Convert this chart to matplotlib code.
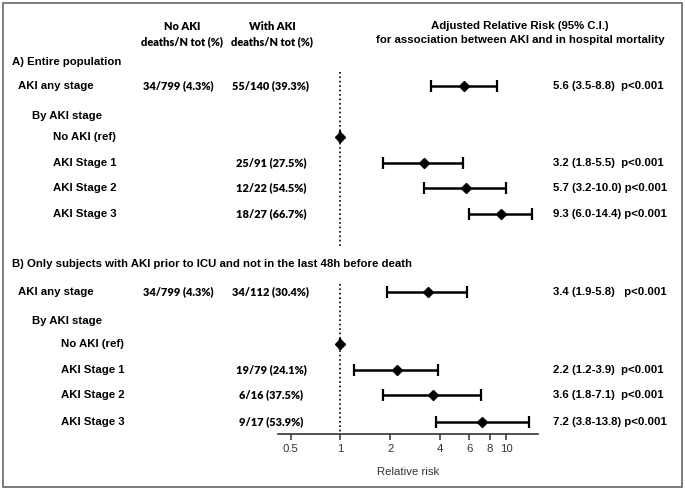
import matplotlib.pyplot as plt
from matplotlib.patches import Rectangle

# data
labels_a = ['AKI any stage', 'By AKI stage', 'No AKI (ref)', 'AKI Stage 1', 'AKI Stage 2', 'AKI Stage 3']
noaki_a = ['34/799 (4.3%)', '', '', '', '', '']
withaki_a = ['55/140 (39.3%)', '', '', '25/91 (27.5%)', '12/22 (54.5%)', '18/27 (66.7%)']
rr_a = [5.6, None, 1.0, 3.2, 5.7, 9.3]
lo_a = [3.5, None, 1.0, 1.8, 3.2, 6.0]
hi_a = [8.8, None, 1.0, 5.5, 10.0, 14.4]
res_a = ['5.6 (3.5-8.8)  p<0.001', '', '', '3.2 (1.8-5.5)  p<0.001',
         '5.7 (3.2-10.0) p<0.001', '9.3 (6.0-14.4) p<0.001']

labels_b = ['AKI any stage', 'By AKI stage', 'No AKI (ref)', 'AKI Stage 1', 'AKI Stage 2', 'AKI Stage 3']
noaki_b = ['34/799 (4.3%)', '', '', '', '', '']
withaki_b = ['34/112 (30.4%)', '', '', '19/79 (24.1%)', '6/16 (37.5%)', '9/17 (53.9%)']
rr_b = [3.4, None, 1.0, 2.2, 3.6, 7.2]
lo_b = [1.9, None, 1.0, 1.2, 1.8, 3.8]
hi_b = [5.8, None, 1.0, 3.9, 7.1, 13.8]
res_b = ['3.4 (1.9-5.8)   p<0.001', '', '', '2.2 (1.2-3.9)  p<0.001',
         '3.6 (1.8-7.1)  p<0.001', '7.2 (3.8-13.8) p<0.001']

ticks = [0.5, 1, 2, 4, 6, 8, 10]

# layout (pixel rows of the 685x491 canvas)
W, H = 685, 491
rows_a = [86, 116, 137, 163, 188, 214]
rows_b = [292, 321, 344, 370, 395, 422]
indent_a = [18, 32, 53, 53, 53, 53]
indent_b = [18, 32, 61, 61, 61, 61]

fig = plt.figure(figsize=(W / 100, H / 100), dpi=100)
ax = fig.add_axes([278 / W, 57 / H, 260 / W, 434 / H])
ax.set_xscale('log')
ax.set_xlim(0.42, 15.6)
ax.set_ylim(434, 0)

lab_font = dict(family='Liberation Sans', weight='bold', fontsize=8.2)
num_font = dict(family='Lato', weight='heavy', fontsize=7.9)


def px(x, y):
    return x / W, 1 - y / H


def draw_block(rows, indent, labels, noaki, withaki, rr, lo, hi, res):
    for i, y in enumerate(rows):
        fig.text(*px(indent[i], y), labels[i], va='center', ha='left', **lab_font)
        if noaki[i]:
            fig.text(*px(178, y), noaki[i], va='center', ha='center', **num_font)
        if withaki[i]:
            fig.text(*px(271, y), withaki[i], va='center', ha='center', **num_font)
        if res[i]:
            fig.text(*px(553, y), res[i], va='center', ha='left', **lab_font)
        if rr[i] is not None:
            ax.errorbar(rr[i], y, xerr=[[rr[i] - lo[i]], [hi[i] - rr[i]]], fmt='D',
                        color='black', ms=5.5, lw=1.8, capsize=4, capthick=1.6)


draw_block(rows_a, indent_a, labels_a, noaki_a, withaki_a, rr_a, lo_a, hi_a, res_a)
draw_block(rows_b, indent_b, labels_b, noaki_b, withaki_b, rr_b, lo_b, hi_b, res_b)

# reference line at RR = 1, broken around the section B header
ax.plot([1, 1], [72, 248], ls=':', color='black', lw=1.2)
ax.plot([1, 1], [284, 434], ls=':', color='black', lw=1.2)

# headers
fig.text(*px(12, 62), 'A) Entire population', va='center', ha='left', **lab_font)
fig.text(*px(12, 264), 'B) Only subjects with AKI prior to ICU and not in the last 48h before death',
         va='center', ha='left', **lab_font)
fig.text(*px(182, 34), 'No AKI\ndeaths/N tot (%)', va='center', ha='center',
         linespacing=1.4, **num_font)
fig.text(*px(272, 34), 'With AKI\ndeaths/N tot (%)', va='center', ha='center',
         linespacing=1.4, **num_font)
fig.text(*px(520, 33), 'Adjusted Relative Risk (95% C.I.)\nfor association between AKI and in hospital mortality',
         va='center', ha='center', linespacing=1.45, **lab_font)

# axis styling
for s in ['left', 'right', 'top']:
    ax.spines[s].set_visible(False)
ax.spines['bottom'].set_color('#333333')
ax.spines['bottom'].set_linewidth(1.2)
ax.set_yticks([])
ax.set_xticks(ticks)
ax.set_xticklabels([str(t) for t in ticks])
ax.minorticks_off()
ax.tick_params(axis='x', length=4, width=1.1, color='#333333', labelsize=8.2, labelcolor='#333333')
for t in ax.get_xticklabels():
    t.set_family('Liberation Sans')
ax.set_xlabel('Relative risk', family='Liberation Sans', fontsize=8.2, color='#333333', labelpad=9)
ax.patch.set_visible(False)

fig.patches.append(Rectangle((3 / W, 4 / H), 679 / W, 484 / H, transform=fig.transFigure,
                             fill=False, edgecolor='#666666', lw=1.2))

fig.savefig('out.png', dpi=100)
